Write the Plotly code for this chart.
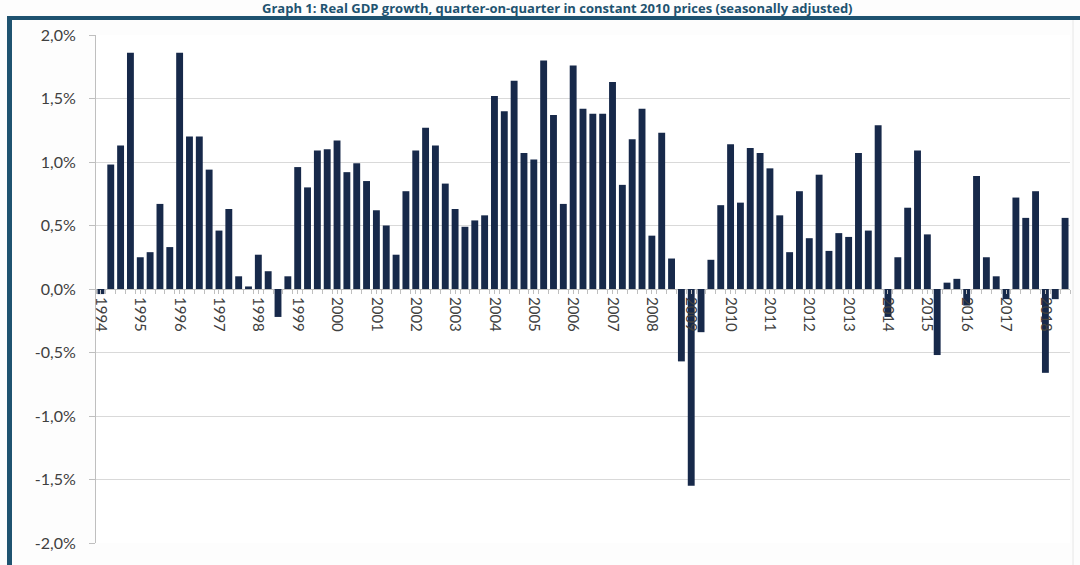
import plotly.graph_objects as go

# Quarterly real GDP growth, q-o-q, %, 1994Q1 - 2018Q3
years = list(range(1994, 2019))
quarters = [f"{y}Q{q}" for y in years for q in range(1, 5)][:99]

growth = [
    -0.04, 0.98, 1.13, 1.86,   # 1994
    0.25, 0.29, 0.67, 0.33,    # 1995
    1.86, 1.20, 1.20, 0.94,    # 1996
    0.46, 0.63, 0.10, 0.02,    # 1997
    0.27, 0.14, -0.22, 0.10,   # 1998
    0.96, 0.80, 1.09, 1.10,    # 1999
    1.17, 0.92, 0.99, 0.85,    # 2000
    0.62, 0.50, 0.27, 0.77,    # 2001
    1.09, 1.27, 1.13, 0.83,    # 2002
    0.63, 0.49, 0.54, 0.58,    # 2003
    1.52, 1.40, 1.64, 1.07,    # 2004
    1.02, 1.80, 1.37, 0.67,    # 2005
    1.76, 1.42, 1.38, 1.38,    # 2006
    1.63, 0.82, 1.18, 1.42,    # 2007
    0.42, 1.23, 0.24, -0.57,   # 2008
    -1.55, -0.34, 0.23, 0.66,  # 2009
    1.14, 0.68, 1.11, 1.07,    # 2010
    0.95, 0.58, 0.29, 0.77,    # 2011
    0.40, 0.90, 0.30, 0.44,    # 2012
    0.41, 1.07, 0.46, 1.29,    # 2013
    -0.22, 0.25, 0.64, 1.09,   # 2014
    0.43, -0.52, 0.05, 0.08,   # 2015
    -0.13, 0.89, 0.25, 0.10,   # 2016
    -0.08, 0.72, 0.56, 0.77,   # 2017
    -0.66, -0.08, 0.56,        # 2018
]

year_ticks = [str(y) for y in years]
y_ticks = [2.0, 1.5, 1.0, 0.5, 0.0, -0.5, -1.0, -1.5, -2.0]
y_tick_text = [f"{v:.1f}%".replace(".", ",") for v in y_ticks]

W, H = 1080, 565
ML, MR, MT, MB = 96, 10, 35, 22
PW, PH = W - ML - MR, H - MT - MB

TEAL = "#1f5370"
BAR = "#17294a"
GRID = "#d9d9d9"
TXT = "#404040"

idx = list(range(len(growth)))

fig = go.Figure(go.Bar(
    x=idx, y=growth,
    marker=dict(color=BAR, line=dict(width=0)),
    hovertext=quarters,
))


def px_x(p):
    return (p - ML) / PW


def px_y(p):
    return 1 - (p - MT) / PH


FRAME_TOP = 16
shapes = [
    # frame: top and left rules
    dict(type="rect", xref="paper", yref="paper", layer="above",
         x0=px_x(7), x1=px_x(W + 5), y0=px_y(FRAME_TOP + 4), y1=px_y(FRAME_TOP),
         fillcolor=TEAL, line=dict(width=0)),
    dict(type="rect", xref="paper", yref="paper", layer="above",
         x0=px_x(7), x1=px_x(12), y0=px_y(H + 5), y1=px_y(FRAME_TOP),
         fillcolor=TEAL, line=dict(width=0)),
    # thin inner border on the right
    dict(type="line", xref="paper", yref="paper", layer="below",
         x0=px_x(1073), x1=px_x(1073), y0=px_y(H), y1=px_y(FRAME_TOP + 4),
         line=dict(color="#e6e6e6", width=1)),
]

fig.update_layout(
    width=W, height=H,
    margin=dict(l=ML, r=MR, t=MT, b=MB),
    paper_bgcolor="#fdfdfd",
    plot_bgcolor="#ffffff",
    showlegend=False,
    bargap=0.3,
    font=dict(family="Lato, Open Sans, sans-serif", color=TXT, size=15),
    shapes=shapes,
    annotations=[dict(
        text="<b>Graph 1: Real GDP growth, quarter-on-quarter in constant 2010 prices (seasonally adjusted)</b>",
        xref="paper", yref="paper", x=px_x(557), y=px_y(8),
        xanchor="center", yanchor="middle", showarrow=False,
        font=dict(family="Open Sans, sans-serif", size=13, color=TEAL),
    )],
)

fig.update_yaxes(
    range=[-2.0, 2.0],
    tickvals=y_ticks,
    ticktext=y_tick_text,
    showgrid=True, gridcolor=GRID, gridwidth=1,
    zeroline=True, zerolinecolor="#bfbfbf", zerolinewidth=1,
    showline=True, linecolor="#bfbfbf", linewidth=1,
    ticks="outside", ticklen=6, tickcolor="#bfbfbf",
    ticklabelstandoff=10,
    tickfont=dict(size=16, color=TXT),
    fixedrange=True,
)

fig.update_xaxes(
    range=[-0.5, len(growth) - 0.5],
    anchor="free", position=0.5,
    tickvals=[i * 4 for i in range(len(year_ticks))],
    ticktext=year_ticks,
    tickangle=90,
    ticks="outside", ticklen=4, tickcolor="#bfbfbf",
    minor=dict(ticks="outside", ticklen=4, tickcolor="#bfbfbf",
               tickvals=[i + 0.5 for i in range(-1, len(growth))]),
    showline=False, showgrid=False, zeroline=False,
    tickfont=dict(size=15, color=TXT),
    fixedrange=True,
)

fig.write_html("out.html")
